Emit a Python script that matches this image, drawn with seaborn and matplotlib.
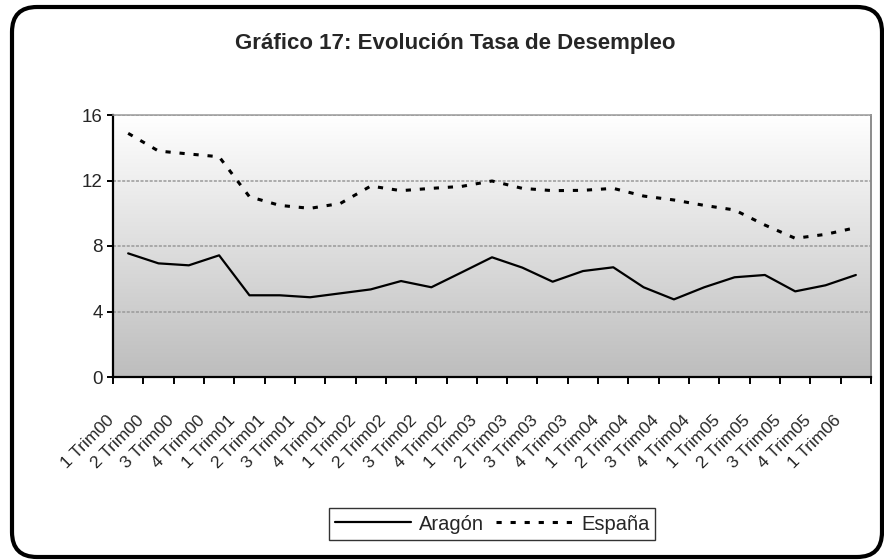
import numpy as np
import pandas as pd
import matplotlib
matplotlib.use("Agg")
import matplotlib.pyplot as plt
import seaborn as sns
from matplotlib.patches import FancyBboxPatch
from matplotlib.colors import LinearSegmentedColormap
from matplotlib.transforms import ScaledTranslation

trimestres = [f"{q} Trim{a:02d}" for a in range(0, 6) for q in range(1, 5)] + ["1 Trim06"]
aragon = [7.55, 6.94, 6.82, 7.43, 4.99, 4.99, 4.87, 5.11, 5.35, 5.86, 5.48, 6.39,
          7.31, 6.68, 5.82, 6.47, 6.70, 5.48, 4.74, 5.48, 6.09, 6.23, 5.23, 5.60, 6.23]
espana = [14.88, 13.80, 13.62, 13.45, 11.01, 10.48, 10.30, 10.60, 11.66, 11.38, 11.52, 11.64,
          11.97, 11.52, 11.38, 11.40, 11.52, 11.05, 10.81, 10.48, 10.20, 9.28, 8.47, 8.71, 9.12]
y_ticks = [0, 4, 8, 12, 16]

df = pd.DataFrame({
    "pos": list(range(len(trimestres))) * 2,
    "valor": aragon + espana,
    "serie": ["Aragón"] * len(aragon) + ["España"] * len(espana),
})

sns.set_style("white")
plt.rcParams["font.family"] = ["Liberation Sans", "DejaVu Sans"]

fig = plt.figure(figsize=(8.84, 5.6), dpi=100)
ax = fig.add_axes([113 / 884, 1 - 377 / 560, (871 - 113) / 884, (377 - 115) / 560])

# degradado de fondo del área de trazado
cmap = LinearSegmentedColormap.from_list("fondo", ["#ffffff", "#bdbdbd"])
grad = np.linspace(0, 1, 256).reshape(-1, 1)
ax.imshow(grad, extent=[0, 1, 0, 1], transform=ax.transAxes, aspect="auto",
          cmap=cmap, origin="upper", zorder=-2)

sns.lineplot(data=df[df.serie == "Aragón"], x="pos", y="valor", color="black",
             lw=1.6, ax=ax, label="Aragón")
sns.lineplot(data=df[df.serie == "España"], x="pos", y="valor", color="black",
             lw=2.2, dashes=False, ax=ax, label="España")
ax.lines[1].set_linestyle((0, (1.7, 2.9)))

ax.set_xlim(-0.5, len(trimestres) - 0.5)
ax.set_ylim(0, 16)
ax.set_yticks(y_ticks)
ax.set_xticks(range(len(trimestres)))
ax.set_xticklabels(trimestres)
ax.set_xticks(np.arange(-0.5, len(trimestres)), minor=True)
ax.set_xlabel("")
ax.set_ylabel("")

ax.grid(axis="y", color="#9a9a9a", lw=1.1, ls=(0, (2, 1)))
ax.set_axisbelow(True)

for s in ["left", "bottom"]:
    ax.spines[s].set_color("black")
    ax.spines[s].set_linewidth(1.6)
ax.spines["right"].set_color("#8c8c8c")
ax.spines["right"].set_linewidth(1.4)
ax.spines["top"].set_color("#9a9a9a")
ax.spines["top"].set_linewidth(1.1)
ax.spines["top"].set_linestyle((0, (2, 1)))

ax.tick_params(axis="y", which="major", direction="out", length=4.3, width=1.4,
               color="black", pad=3, labelsize=13.5, left=True)
ax.tick_params(axis="x", which="major", length=0, pad=0, labelsize=12.5)
ax.tick_params(axis="x", which="minor", direction="out", length=5, width=1.4,
               color="black", bottom=True)

offset = ScaledTranslation(-17 / 100, -41 / 100, fig.dpi_scale_trans)
for lab in ax.get_xticklabels():
    lab.set_rotation(45)
    lab.set_ha("right")
    lab.set_va("center")
    lab.set_rotation_mode("anchor")
    lab.set_transform(lab.get_transform() + offset)

ax.legend_.remove()
handles, labels = ax.get_legend_handles_labels()
leg = fig.legend(handles, labels, loc="center", bbox_to_anchor=(492 / 884, 1 - 524 / 560),
                 ncol=2, frameon=True, fancybox=False, edgecolor="black", fontsize=14.5,
                 handlelength=3.8, handletextpad=0.4, columnspacing=0.6, borderpad=0.3,
                 borderaxespad=0)
leg.get_frame().set_linewidth(1.0)

fig.text(455 / 884, 1 - 44 / 560, "Gráfico 17: Evolución Tasa de Desempleo",
         ha="center", va="center", fontsize=16, fontweight="bold")

borde = FancyBboxPatch((0.12, 0.03), 8.70, 5.50, boxstyle="round,pad=0,rounding_size=0.25",
                       transform=fig.dpi_scale_trans, fill=False, edgecolor="black", lw=3)
fig.patches.append(borde)

fig.savefig("out.png", dpi=100)
